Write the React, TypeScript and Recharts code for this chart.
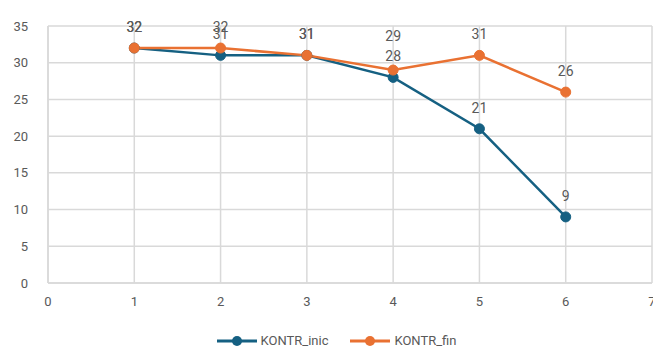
import { CartesianGrid, LabelList, Line, LineChart, XAxis, YAxis } from "recharts";

const xValues = [1, 2, 3, 4, 5, 6];
const kontrInic = [32, 31, 31, 28, 21, 9];
const kontrFin = [32, 32, 31, 29, 31, 26];
const xTicks = [0, 1, 2, 3, 4, 5, 6, 7];
const yTicks = [0, 5, 10, 15, 20, 25, 30, 35];

const BLUE = "#156082";
const ORANGE = "#E97132";
const TEXT = "#595959";
const GRID = "#d9d9d9";
const FONT = "Roboto, 'Open Sans', sans-serif";

const data = xValues.map((x, i) => ({
  x,
  inic: kontrInic[i],
  fin: kontrFin[i],
}));

// value label above a point; lift is extra space when two labels collide
function makeLabel(lift: (index: number) => number) {
  return (props: any) => {
    const { x, y, value, index } = props;
    return (
      <text
        x={x}
        y={y - 21 - lift(index)}
        textAnchor="middle"
        dominantBaseline="central"
        fill={TEXT}
        fontSize={14}
        fontFamily={FONT}
      >
        {value}
      </text>
    );
  };
}

const series = [
  { key: "inic", name: "KONTR_inic", color: BLUE },
  { key: "fin", name: "KONTR_fin", color: ORANGE },
];

function LegendRow() {
  return (
    <div
      style={{
        display: "flex",
        justifyContent: "center",
        gap: 22,
        fontFamily: FONT,
        fontSize: 13,
        color: TEXT,
        marginLeft: 20,
      }}
    >
      {series.map((s) => (
        <div key={s.key} style={{ display: "flex", alignItems: "center", gap: 4 }}>
          <svg width={40} height={12}>
            <line x1={0} y1={6} x2={40} y2={6} stroke={s.color} strokeWidth={3} />
            <circle cx={20} cy={6} r={5} fill={s.color} />
          </svg>
          <span>{s.name}</span>
        </div>
      ))}
    </div>
  );
}

export default function App() {
  return (
    <div style={{ position: "absolute", left: 0, top: 0, background: "#fff" }}>
      <LineChart
        width={653}
        height={349}
        data={data}
        margin={{ top: 26, right: 1, left: 0, bottom: 36 }}
      >
        <CartesianGrid stroke={GRID} strokeWidth={1.5} />
        <XAxis
          dataKey="x"
          type="number"
          domain={[0, 7]}
          ticks={xTicks}
          interval={0}
          tickLine={false}
          axisLine={{ stroke: GRID, strokeWidth: 1.5 }}
          tick={{ fill: TEXT, fontSize: 13, fontFamily: FONT }}
          tickMargin={8}
          height={30}
        />
        <YAxis
          type="number"
          domain={[0, 35]}
          ticks={yTicks}
          interval={0}
          tickLine={false}
          axisLine={{ stroke: GRID, strokeWidth: 1.5 }}
          tick={{ fill: TEXT, fontSize: 13, fontFamily: FONT }}
          tickMargin={14}
          width={48}
        />
        <Line
          dataKey="inic"
          name="KONTR_inic"
          stroke={BLUE}
          strokeWidth={2.5}
          dot={{ r: 5, fill: BLUE, stroke: BLUE, strokeWidth: 1 }}
          isAnimationActive={false}
        >
          <LabelList dataKey="inic" content={makeLabel(() => 0)} />
        </Line>
        <Line
          dataKey="fin"
          name="KONTR_fin"
          stroke={ORANGE}
          strokeWidth={2.5}
          dot={{ r: 5, fill: ORANGE, stroke: ORANGE, strokeWidth: 1 }}
          isAnimationActive={false}
        >
          <LabelList dataKey="fin" content={makeLabel((i) => (i === 3 ? 13 : 0))} />
        </Line>
      </LineChart>
      <div style={{ position: "absolute", left: 0, top: 333, width: 653 }}>
        <LegendRow />
      </div>
    </div>
  );
}
